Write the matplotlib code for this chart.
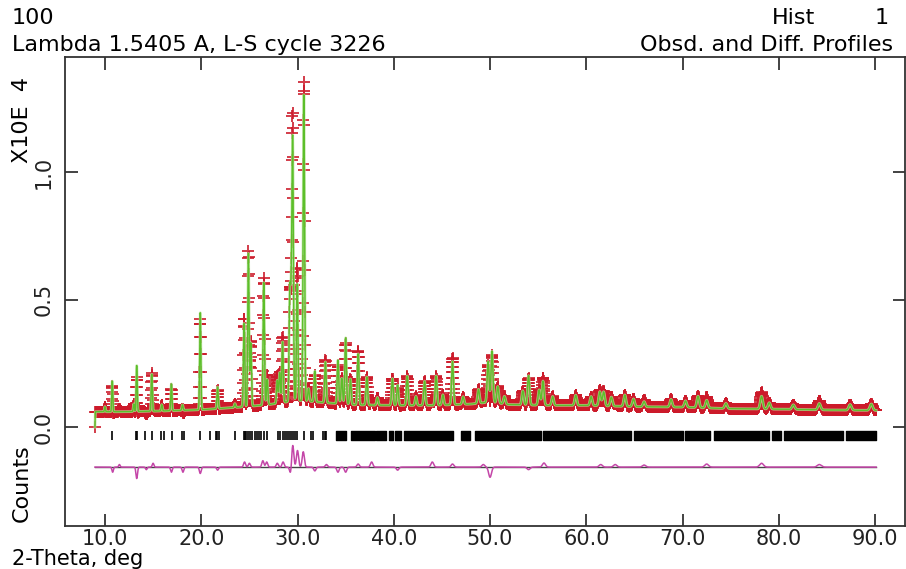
import numpy as np
import matplotlib
matplotlib.use("Agg")
import matplotlib.pyplot as plt

# background knots (2-theta, counts / 1e4)
bg_tth = [9.0, 12, 16, 20, 24, 27, 30, 33, 36, 40, 44, 48, 50, 52, 56, 60, 65, 70, 75, 80, 85, 90.1]
bg_cnt = [0.060, 0.060, 0.063, 0.068, 0.078, 0.088, 0.105, 0.095, 0.087, 0.085, 0.085, 0.090,
          0.098, 0.088, 0.085, 0.085, 0.080, 0.078, 0.072, 0.070, 0.067, 0.065]

# peak positions and net heights (counts / 1e4)
peak_tth = [10.0, 10.76, 13.0, 13.3, 14.86, 15.9, 16.9, 18.05, 19.9, 21.7,
            23.5, 24.45, 24.9, 25.15, 26.5, 26.85, 27.9, 28.15, 28.45, 29.2,
            29.35, 29.5, 29.97, 30.66, 31.15, 31.8, 32.9, 34.2, 34.6, 35.0,
            35.5, 36.3, 37.2, 38.3, 39.86, 40.4, 41.4, 42.3, 43.2, 44.4,
            45.1, 46.1, 47.2, 48.8, 49.8, 50.2, 50.8, 51.5, 53.4, 54.0,
            55.1, 55.5, 56.5, 58.9, 60.5, 61.4, 61.8, 62.6, 64.0, 64.9,
            66.0, 68.8, 70.3, 71.6, 72.5, 74.5, 78.2, 79.0, 81.5, 84.2,
            87.4, 89.6]
peak_h = [0.02, 0.12, 0.03, 0.18, 0.145, 0.025, 0.105, 0.022, 0.38, 0.085,
          0.015, 0.33, 0.60, 0.25, 0.48, 0.10, 0.09, 0.12, 0.24, 0.41,
          0.35, 1.0, 0.46, 1.2, 0.05, 0.12, 0.16, 0.17, 0.10, 0.26,
          0.10, 0.20, 0.11, 0.03, 0.105, 0.08, 0.115, 0.035, 0.095, 0.115,
          0.04, 0.17, 0.03, 0.055, 0.16, 0.20, 0.065, 0.03, 0.055, 0.115,
          0.06, 0.095, 0.035, 0.04, 0.035, 0.055, 0.055, 0.035, 0.045, 0.03,
          0.02, 0.03, 0.025, 0.045, 0.03, 0.02, 0.05, 0.025, 0.018, 0.025,
          0.022, 0.025]

# obs - calc misfits
diff_tth = [10.8, 11.5, 13.3, 14.3, 15.0, 16.9, 18.1, 19.9, 21.7, 24.5, 25.0,
            26.4, 26.8, 27.9, 28.5, 29.3, 29.5, 30.0, 30.6, 31.8, 33.0, 34.2,
            35.0, 36.3, 37.7, 40.4, 44.0, 46.1, 49.3, 50.0, 54.0, 55.6, 61.5,
            63.0, 66.0, 72.5, 78.2, 84.2]
diff_h = [-0.02, 0.01, -0.045, -0.01, 0.015, -0.02, -0.02, -0.025, -0.012, 0.02, 0.015,
          0.025, 0.02, 0.015, 0.02, -0.03, 0.09, 0.065, 0.06, -0.015, 0.01, -0.02,
          -0.02, 0.012, 0.02, -0.012, 0.02, 0.012, 0.01, -0.04, -0.01, 0.016, 0.01,
          0.01, 0.008, 0.012, 0.015, 0.01]
diff_offset = -0.157

# reflection markers
refl_tth = [10.76, 13.2, 13.37, 14.2, 14.86, 15.8, 16.15, 16.95, 18.05, 18.2, 19.9,
            20.9, 21.5, 21.65, 21.8, 23.5, 24.4, 24.55, 24.7, 24.9, 25.1, 25.3,
            25.55, 25.8, 26.0, 26.25, 26.5, 26.8, 27.95, 28.2, 28.5, 28.7, 28.9,
            29.15, 29.35, 29.5, 29.7, 29.9, 30.65, 31.35, 31.6, 32.7, 32.85, 33.0]
refl_spans = [(33.95, 35.05), (35.6, 38.0), (38.2, 39.2), (39.5, 39.9), (40.1, 40.8),
              (41.1, 46.1), (47.0, 47.9), (48.4, 55.3), (55.5, 64.6), (65.0, 70.0),
              (70.3, 72.8), (73.3, 79.0), (79.3, 80.2), (80.5, 86.7), (87.0, 90.1)]

first_pt = (8.96, 0.0)
xticks = [10, 20, 30, 40, 50, 60, 70, 80, 90]
yticks = [0.0, 0.5, 1.0]

# profile on the scan grid
tth = np.arange(9.0, 90.12, 0.02)
bg = np.interp(tth, bg_tth, bg_cnt)
sig = lambda t: 0.05 + 0.0012 * (t - 10)
calc = bg.copy()
for p, h in zip(peak_tth, peak_h):
    calc += h * np.exp(-0.5 * ((tth - p) / sig(p)) ** 2)
resid = np.zeros_like(tth)
for p, h in zip(diff_tth, diff_h):
    resid += h * np.exp(-0.5 * ((tth - p) / (1.5 * sig(p))) ** 2)
obs = calc + resid
tth = np.insert(tth, 0, first_pt[0])
calc = np.insert(calc, 0, first_pt[1])
obs = np.insert(obs, 0, first_pt[1])
resid = np.insert(resid, 0, 0.0)

plt.rcParams['font.family'] = 'DejaVu Sans'
fig = plt.figure(figsize=(9.06, 5.69), dpi=100)
ax = fig.add_axes([65 / 906, 43 / 569, 840 / 906, 469 / 569])

ax.plot(tth, obs, '+', color='#cc1a2a', ms=8, mew=1.4, alpha=0.85)
ax.plot(tth, calc, color='#b8e29a', lw=2.0, alpha=0.8)
ax.plot(tth, calc, color='#5cbf2a', lw=1.0)
ax.plot([tth[1], tth[-1]], [diff_offset] * 2, color='#444444', lw=1.0)
ax.plot(tth, diff_offset + resid, color='#c446a8', lw=1.1)
ax.vlines(refl_tth, -0.05, -0.017, color='k', lw=1.2)
ax.broken_barh([(a, b - a) for a, b in refl_spans], (-0.05, 0.033), color='k')

ax.set_xlim(5.85, 93.1)
ax.set_ylim(-0.388, 1.451)
ax.set_xticks(xticks)
ax.set_xticklabels([f"{v:.1f}" for v in xticks])
ax.set_yticks(yticks)
ax.set_yticklabels([f"{v:.1f}" for v in yticks], rotation=90, va='center')
ax.tick_params(direction='in', top=True, right=True, length=9, width=1.2,
               labelsize=15, colors='#222222')
ax.tick_params(axis='x', pad=2)
ax.tick_params(axis='y', pad=8)
for s in ax.spines.values():
    s.set_linewidth(1.3)
    s.set_color('#333333')

fs = 16
fig.text(12 / 906, 1 - 18 / 569, "100", fontsize=fs, va='center', ha='left')
fig.text(12 / 906, 1 - 45 / 569, "Lambda 1.5405 A, L-S cycle 3226", fontsize=fs, va='center', ha='left')
fig.text(815 / 906, 1 - 18 / 569, "Hist", fontsize=fs, va='center', ha='right')
fig.text(882 / 906, 1 - 18 / 569, "1", fontsize=fs, va='center', ha='center')
fig.text(893 / 906, 1 - 45 / 569, "Obsd. and Diff. Profiles", fontsize=fs, va='center', ha='right')
fig.text(12 / 906, 1 - 559 / 569, "2-Theta, deg", fontsize=15, va='center', ha='left')
fig.text(22 / 906, 1 - 120 / 569, "X10E  4", fontsize=fs, va='center', ha='center', rotation=90)
fig.text(22 / 906, 1 - 483 / 569, "Counts", fontsize=fs, va='center', ha='center', rotation=90)

fig.savefig("out.png", dpi=100, facecolor='white')
